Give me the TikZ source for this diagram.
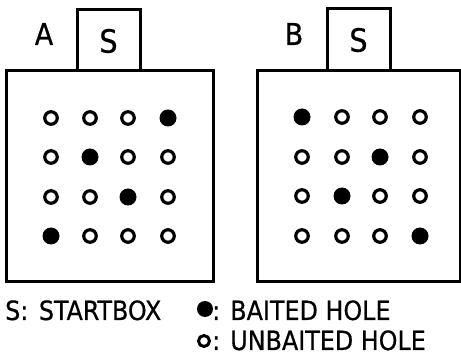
\documentclass[tikz,border=0pt]{standalone}
\usepackage{fontspec}
\setmainfont{DejaVu Sans Condensed}
\newfontfamily\plotfont[FakeBold=0.6]{DejaVu Sans Condensed}
\usetikzlibrary{positioning}
\tikzset{
  wall/.style={draw=black, line width=3pt},
  hole/.style={circle, draw=black, line width=3.2pt, fill=white,
               minimum size=12.5pt, inner sep=0pt},
  bait/.style={circle, fill=black, minimum size=17pt, inner sep=0pt},
  boxlabel/.style={font=\plotfont\fontsize{30}{32}\selectfont, inner sep=0pt},
  startlabel/.style={font=\plotfont\fontsize{32}{34}\selectfont, inner sep=0pt},
  legend/.style={font=\plotfont\fontsize{26.5}{28}\selectfont, inner sep=0pt, anchor=base west},
}
\begin{document}
\begin{tikzpicture}[x=1pt, y=-1pt]
\useasboundingbox (0,0) rectangle (461,355);
% arena A
\draw[wall] (6,71) rectangle (213,282);
\draw[wall] (77,71) -- (77,10) -- (140,10) -- (140,71);
\node[boxlabel] (labA) at (44,34) {A};
\node[startlabel] (startA) at (108.5,41) {S};
\foreach \r/\y in {1/118,2/157,3/197,4/236}
  \foreach \c/\x in {1/51,2/90,3/128,4/168}
    \node[hole] (holeA\r\c) at (\x,\y) {};
\node[bait] at (holeA14) {};
\node[bait] at (holeA22) {};
\node[bait] at (holeA33) {};
\node[bait] at (holeA41) {};
% arena B
\draw[wall] (257,71) rectangle (460,282);
\draw[wall] (327,71) -- (327,9) -- (390,9) -- (390,71);
\node[boxlabel] (labB) at (294,34) {B};
\node[startlabel] (startB) at (358.5,40) {S};
\foreach \r/\y in {1/117,2/157,3/196,4/236}
  \foreach \c/\x in {1/302,2/342,3/380,4/420}
    \node[hole] (holeB\r\c) at (\x,\y) {};
\node[bait] at (holeB11) {};
\node[bait] at (holeB23) {};
\node[bait] at (holeB32) {};
\node[bait] at (holeB44) {};
% legend
\node[legend] (legS) at (5,320) {S:\hspace{3pt} STARTBOX};
\node[bait, minimum size=16pt] (legbait) at (205,309) {};
\node[legend] (legbaittext) at (212,320) {: BAITED HOLE};
\node[hole, minimum size=11pt, line width=3pt] (leghole) at (204,341) {};
\node[legend] (legholetext) at (212,350) {: UNBAITED HOLE};
\end{tikzpicture}
\end{document}
